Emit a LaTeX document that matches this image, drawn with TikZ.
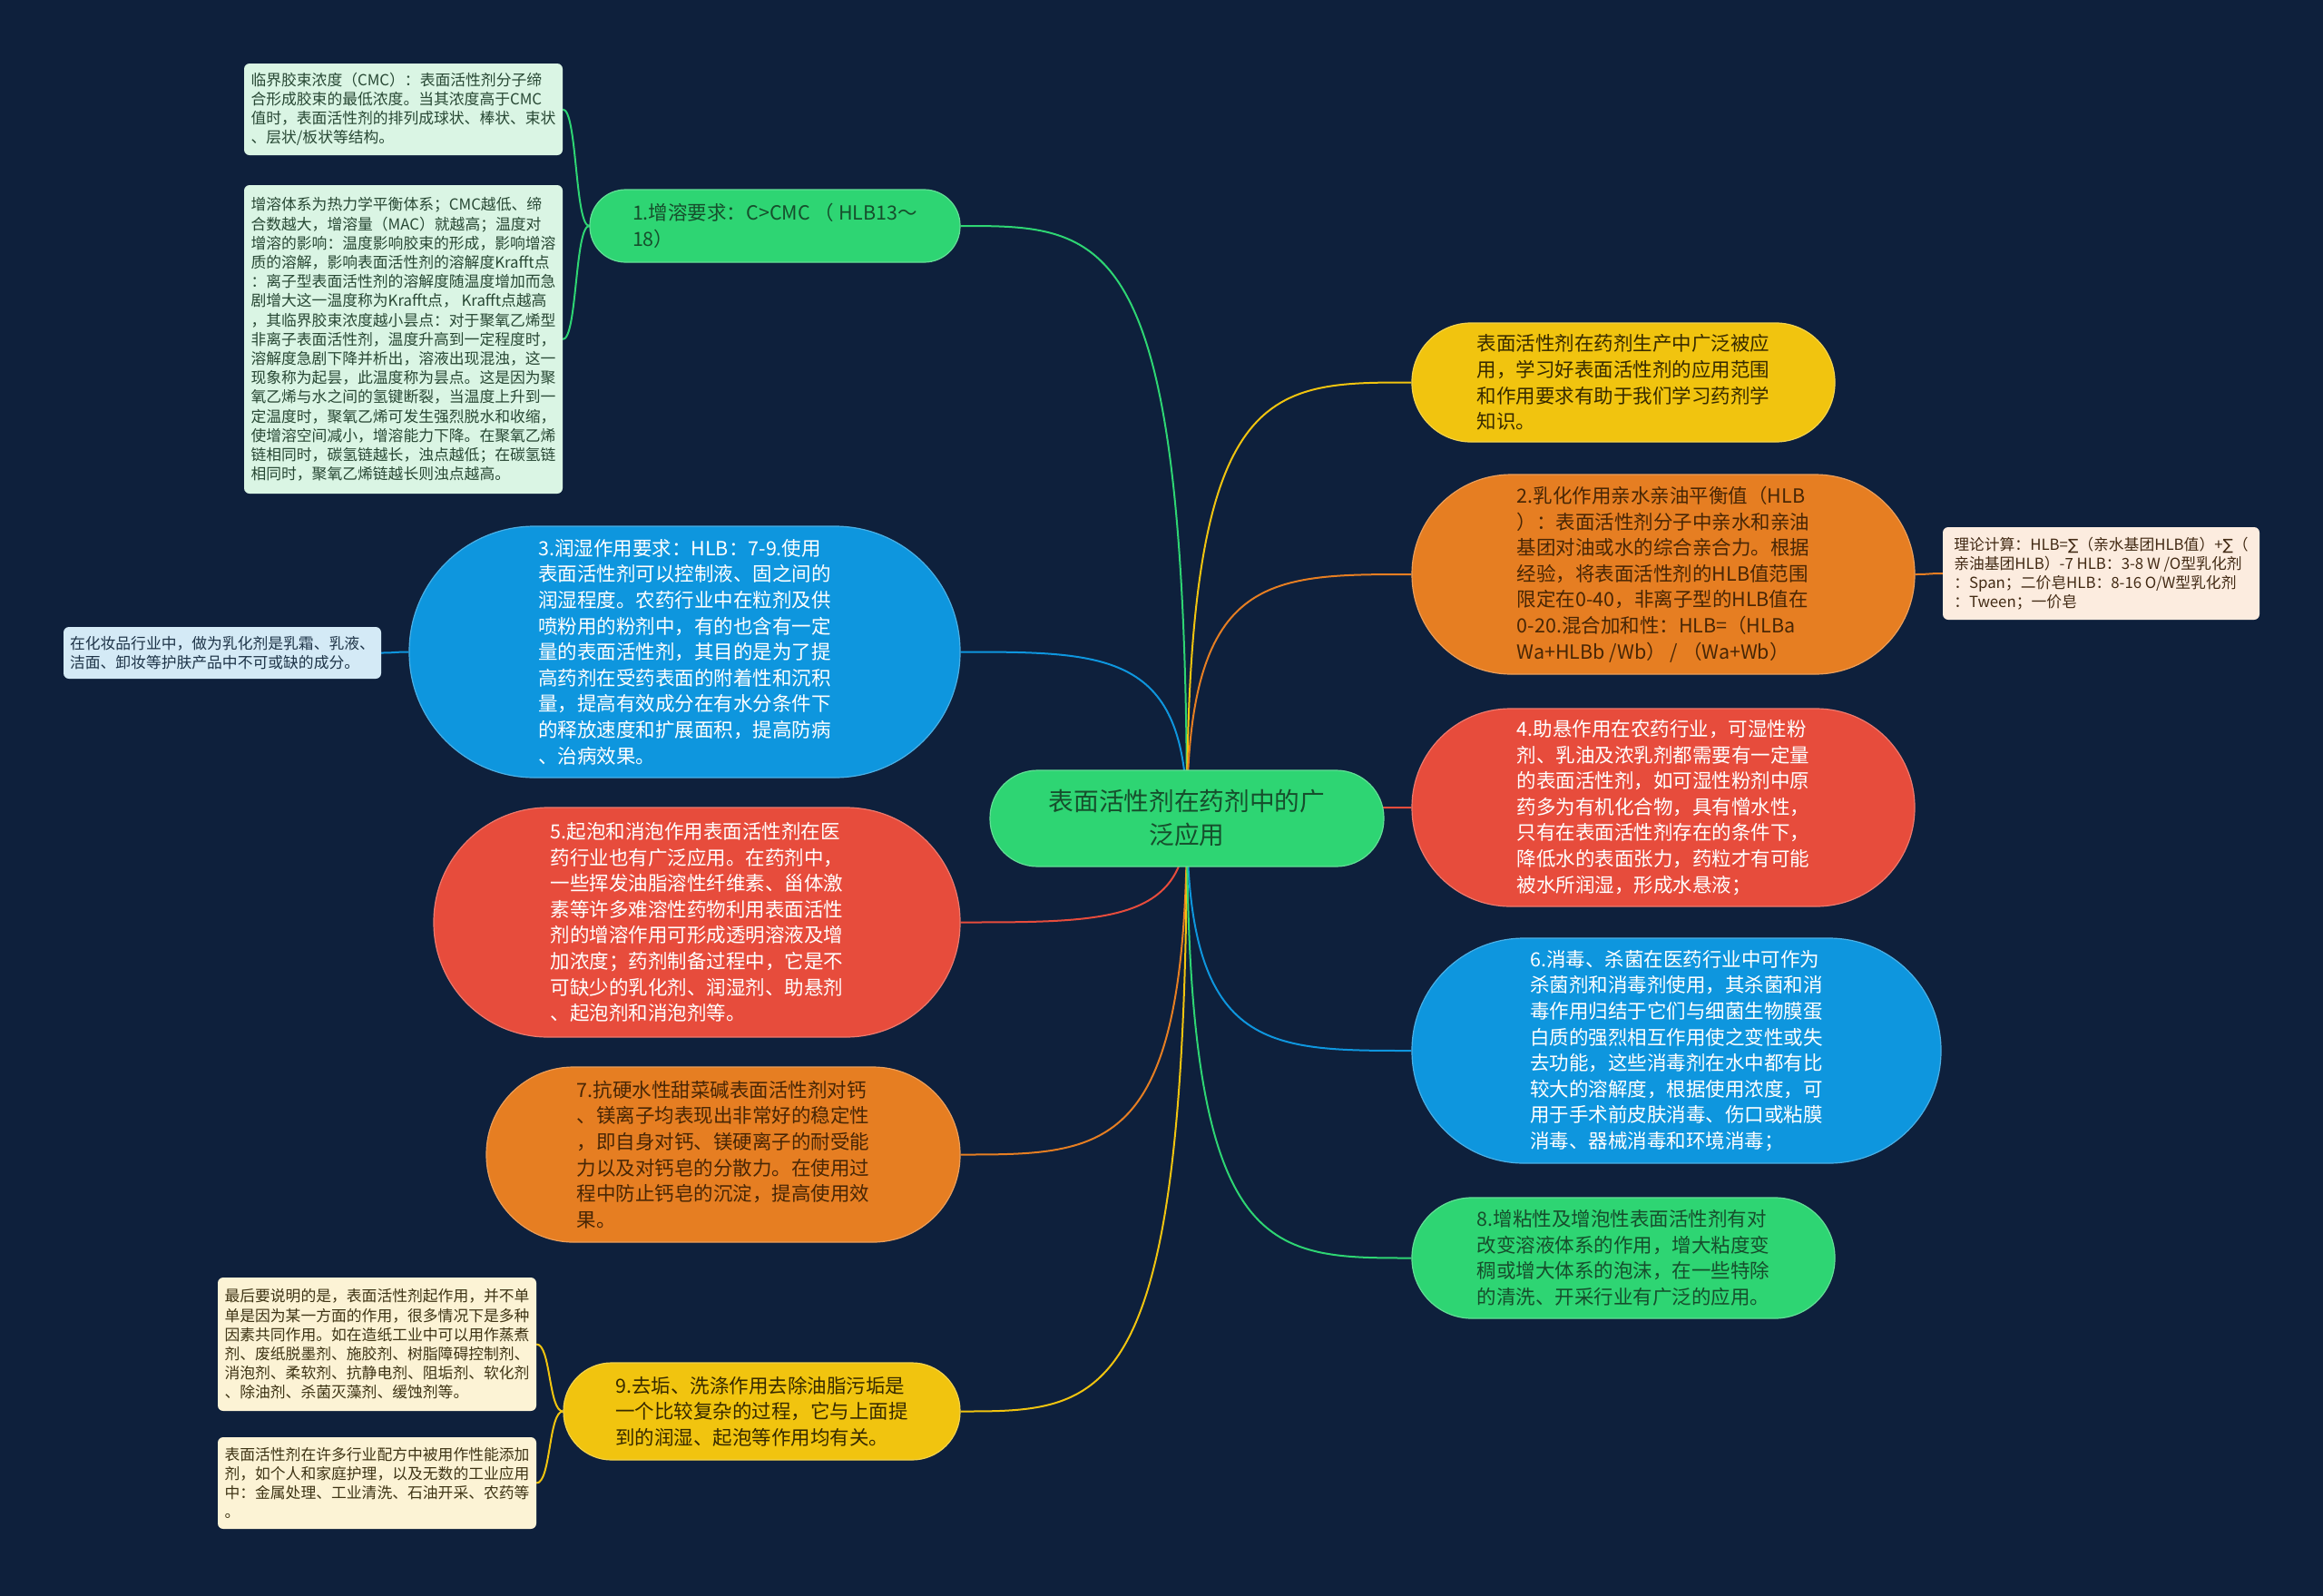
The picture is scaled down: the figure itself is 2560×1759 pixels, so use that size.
\documentclass[tikz,border=0pt]{standalone}
\usepackage{fontspec}
\setmainfont{Noto Sans CJK SC}
\newfontfamily\dejavu{DejaVu Sans}
\usetikzlibrary{calc,backgrounds}
\definecolor{bg}{RGB}{14,32,60}
\definecolor{cgreen}{RGB}{46,213,115}
\definecolor{cyellow}{RGB}{241,196,15}
\definecolor{corange}{RGB}{230,126,34}
\definecolor{cred}{RGB}{231,76,60}
\definecolor{cblue}{RGB}{14,150,222}
\definecolor{tgreen}{RGB}{22,78,44}
\definecolor{tyellow}{RGB}{55,42,0}
\definecolor{torange}{RGB}{72,38,5}
\definecolor{ngreen}{RGB}{218,245,228}
\definecolor{nblue}{RGB}{212,234,246}
\definecolor{npeach}{RGB}{252,236,223}
\definecolor{ncream}{RGB}{252,243,213}
\definecolor{tngreen}{RGB}{40,72,52}
\definecolor{tnblue}{RGB}{30,52,72}
\definecolor{tnpeach}{RGB}{66,42,20}
\definecolor{tncream}{RGB}{62,52,20}
\tikzset{
  mainbox/.style={font=\fontsize{21.5}{28.6}\selectfont, align=left, inner sep=0pt, line width=1.2pt},
  notebox/.style={font=\fontsize{16.8}{21.2}\selectfont, align=left, inner sep=0pt, rounded corners=6pt},
  link/.style={line width=2pt}
}
\begin{document}
\begin{tikzpicture}[x=1pt,y=-1pt]
\useasboundingbox (0,0) rectangle (2560,1759);

% center
\node[font=\fontsize{27.7}{37}\selectfont, align=center, inner sep=0pt, fill=cgreen, draw=cgreen!75!white, line width=1.2pt, text=tgreen,
  minimum width=434pt, minimum height=106pt, rounded corners=52.5pt] (c) at (1308,902) {表面活性剂在药剂中的广\\泛应用};

% left branches
\node[mainbox, fill=cgreen, draw=cgreen!75!white, text=tgreen, minimum width=408pt, minimum height=80pt, rounded corners=39.5pt] (n1) at (854,249)
 {1.增溶要求：C>CMC （ HLB13～\\18）};

\node[notebox, fill=ngreen, text=tngreen, minimum width=351pt, minimum height=101pt] (note1) at (444.5,120.5)
 {临界胶束浓度（CMC）：表面活性剂分子缔\\合形成胶束的最低浓度。当其浓度高于CMC\\值时，表面活性剂的排列成球状、棒状、束状\\、层状/板状等结构。};

\node[notebox, fill=ngreen, text=tngreen, minimum width=351pt, minimum height=340pt] (note2) at (444.5,374)
 {增溶体系为热力学平衡体系；CMC越低、缔\\合数越大，增溶量（MAC）就越高；温度对\\增溶的影响：温度影响胶束的形成，影响增溶\\质的溶解，影响表面活性剂的溶解度Krafft点\\：离子型表面活性剂的溶解度随温度增加而急\\剧增大这一温度称为Krafft点， Krafft点越高\\，其临界胶束浓度越小昙点：对于聚氧乙烯型\\非离子表面活性剂，温度升高到一定程度时，\\溶解度急剧下降并析出，溶液出现混浊，这一\\现象称为起昙，此温度称为昙点。这是因为聚\\氧乙烯与水之间的氢键断裂，当温度上升到一\\定温度时，聚氧乙烯可发生强烈脱水和收缩，\\使增溶空间减小，增溶能力下降。在聚氧乙烯\\链相同时，碳氢链越长，浊点越低；在碳氢链\\相同时，聚氧乙烯链越长则浊点越高。};

\node[mainbox, fill=cblue, draw=cblue!75!white, text=white, minimum width=607pt, minimum height=277pt, rounded corners=138pt] (n3) at (754.5,718.5)
 {3.润湿作用要求：HLB：7-9.使用\\表面活性剂可以控制液、固之间的\\润湿程度。农药行业中在粒剂及供\\喷粉用的粉剂中，有的也含有一定\\量的表面活性剂，其目的是为了提\\高药剂在受药表面的附着性和沉积\\量，提高有效成分在有水分条件下\\的释放速度和扩展面积，提高防病\\、治病效果。};

\node[notebox, fill=nblue, text=tnblue, minimum width=350pt, minimum height=57pt] (note3) at (245,719.5)
 {在化妆品行业中，做为乳化剂是乳霜、乳液、\\洁面、卸妆等护肤产品中不可或缺的成分。};

\node[mainbox, fill=cred, draw=cred!75!white, text=white, minimum width=580pt, minimum height=253pt, rounded corners=126pt] (n5) at (768,1016.5)
 {5.起泡和消泡作用表面活性剂在医\\药行业也有广泛应用。在药剂中，\\一些挥发油脂溶性纤维素、甾体激\\素等许多难溶性药物利用表面活性\\剂的增溶作用可形成透明溶液及增\\加浓度；药剂制备过程中，它是不\\可缺少的乳化剂、润湿剂、助悬剂\\、起泡剂和消泡剂等。};

\node[mainbox, fill=corange, draw=corange!75!white, text=torange, minimum width=522pt, minimum height=193pt, rounded corners=96pt] (n7) at (797,1272.5)
 {7.抗硬水性甜菜碱表面活性剂对钙\\、镁离子均表现出非常好的稳定性\\，即自身对钙、镁硬离子的耐受能\\力以及对钙皂的分散力。在使用过\\程中防止钙皂的沉淀，提高使用效\\果。};

\node[mainbox, fill=cyellow, draw=cyellow!75!white, text=tyellow, minimum width=437pt, minimum height=107pt, rounded corners=53pt] (n9) at (839.5,1555.5)
 {9.去垢、洗涤作用去除油脂污垢是\\一个比较复杂的过程，它与上面提\\到的润湿、起泡等作用均有关。};

\node[notebox, fill=ncream, text=tncream, minimum width=351pt, minimum height=147pt] (note4) at (415.5,1481.5)
 {最后要说明的是，表面活性剂起作用，并不单\\单是因为某一方面的作用，很多情况下是多种\\因素共同作用。如在造纸工业中可以用作蒸煮\\剂、废纸脱墨剂、施胶剂、树脂障碍控制剂、\\消泡剂、柔软剂、抗静电剂、阻垢剂、软化剂\\、除油剂、杀菌灭藻剂、缓蚀剂等。};

\node[notebox, fill=ncream, text=tncream, minimum width=351pt, minimum height=101pt] (note5) at (415.5,1634.5)
 {表面活性剂在许多行业配方中被用作性能添加\\剂，如个人和家庭护理，以及无数的工业应用\\中：金属处理、工业清洗、石油开采、农药等\\。};

% right branches
\node[mainbox, fill=cyellow, draw=cyellow!75!white, text=tyellow, minimum width=466pt, minimum height=131pt, rounded corners=65pt] (n0) at (1789,421.5)
 {表面活性剂在药剂生产中广泛被应\\用，学习好表面活性剂的应用范围\\和作用要求有助于我们学习药剂学\\知识。};

\node[mainbox, fill=corange, draw=corange!75!white, text=torange, minimum width=554pt, minimum height=220pt, rounded corners=109.5pt] (n2) at (1833,633)
 {2.乳化作用亲水亲油平衡值（HLB\\）：表面活性剂分子中亲水和亲油\\基团对油或水的综合亲合力。根据\\经验，将表面活性剂的HLB值范围\\限定在0-40，非离子型的HLB值在\\0-20.混合加和性：HLB=（HLBa\\Wa+HLBb /Wb） / （Wa+Wb）};

\node[notebox, fill=npeach, text=tnpeach, minimum width=349pt, minimum height=102pt] (note6) at (2315.5,632)
 {理论计算：HLB={\dejavu ∑}（亲水基团HLB值）+{\dejavu ∑}（\\亲油基团HLB）-7 HLB：3-8 W /O型乳化剂\\：Span；二价皂HLB：8-16 O/W型乳化剂\\：Tween；一价皂};

\node[mainbox, fill=cred, draw=cred!75!white, text=white, minimum width=554pt, minimum height=218pt, rounded corners=108.5pt] (n4) at (1833,890)
 {4.助悬作用在农药行业，可湿性粉\\剂、乳油及浓乳剂都需要有一定量\\的表面活性剂，如可湿性粉剂中原\\药多为有机化合物，具有憎水性，\\只有在表面活性剂存在的条件下，\\降低水的表面张力，药粒才有可能\\被水所润湿，形成水悬液；};

\node[mainbox, fill=cblue, draw=cblue!75!white, text=white, minimum width=583pt, minimum height=248pt, rounded corners=123.5pt] (n6) at (1847.5,1158)
 {6.消毒、杀菌在医药行业中可作为\\杀菌剂和消毒剂使用，其杀菌和消\\毒作用归结于它们与细菌生物膜蛋\\白质的强烈相互作用使之变性或失\\去功能，这些消毒剂在水中都有比\\较大的溶解度，根据使用浓度，可\\用于手术前皮肤消毒、伤口或粘膜\\消毒、器械消毒和环境消毒；};

\node[mainbox, fill=cgreen, draw=cgreen!75!white, text=tgreen, minimum width=466pt, minimum height=133pt, rounded corners=66pt] (n8) at (1789,1386.5)
 {8.增粘性及增泡性表面活性剂有对\\改变溶液体系的作用，增大粘度变\\稠或增大体系的泡沫，在一些特除\\的清洗、开采行业有广泛的应用。};

\begin{pgfonlayer}{background}
\fill[bg] (0,0) rectangle (2560,1759);
\foreach \n/\col in {n1/cgreen, n3/cblue, n5/cred, n7/corange, n9/cyellow} {
  \draw[link,\col] (c.center) .. controls (c.center |- \n.east) and ($(c.center |- \n.east)!0.35!(\n.east)$) .. (\n.east);
}
\foreach \n/\col in {n0/cyellow, n2/corange, n4/cred, n6/cblue, n8/cgreen} {
  \draw[link,\col] (c.center) .. controls (c.center |- \n.west) and ($(c.center |- \n.west)!0.35!(\n.west)$) .. (\n.west);
}
\draw[link,cgreen] (n1.west) .. controls +(-16,0) and +(16,0) .. (note1.east);
\draw[link,cgreen] (n1.west) .. controls +(-16,0) and +(16,0) .. (note2.east);
\draw[link,cblue] (n3.west) .. controls +(-16,0) and +(16,0) .. (note3.east);
\draw[link,corange] (n2.east) .. controls +(16,0) and +(-16,0) .. (note6.west);
\draw[link,cyellow] (n9.west) .. controls +(-16,0) and +(16,0) .. (note4.east);
\draw[link,cyellow] (n9.west) .. controls +(-16,0) and +(16,0) .. (note5.east);
\end{pgfonlayer}
\end{tikzpicture}
\end{document}
